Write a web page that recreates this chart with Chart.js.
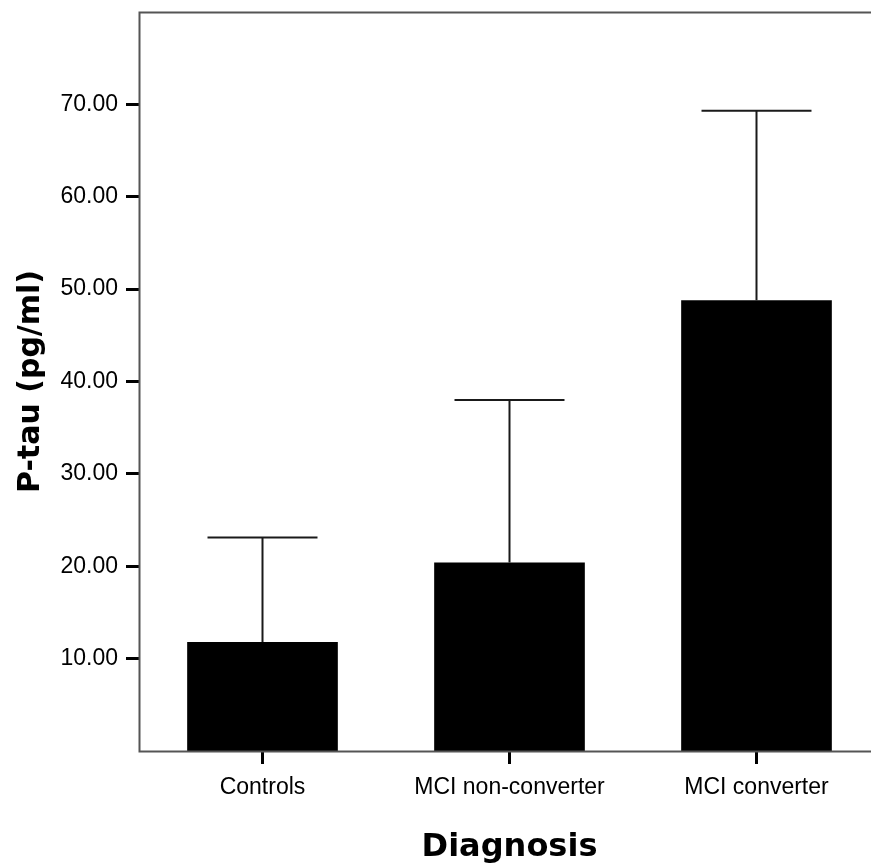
<!DOCTYPE html>
<html>
<head>
<meta charset="utf-8">
<title>P-tau by diagnosis</title>
<script src="https://cdn.jsdelivr.net/npm/chart.js@4/dist/chart.umd.min.js"></script>
<style>
  html, body { margin: 0; padding: 0; background: #fff; overflow: hidden; }
  canvas { display: block; }
</style>
</head>
<body>
<canvas id="ptauChart" width="880" height="867"></canvas>
<script>
// Categorías (eje X) y valores
const diagnoses = ['Controls', 'MCI non-converter', 'MCI converter'];
const means = [11.8, 20.4, 48.8];     // media de P-tau (pg/ml)
const stdDevs = [11.3, 17.6, 20.5];   // longitud de la barra de error (arriba)
const yTicks = [10, 20, 30, 40, 50, 60, 70];
const yMin = 0;
const yMax = 80;

// Marco del área del gráfico + barras de error (solo hacia arriba)
const errorBarPlugin = {
    id: 'errorBars',
    afterDatasetsDraw(chart) {
        const { ctx, chartArea, scales: { y } } = chart;
        const meta = chart.getDatasetMeta(0);

        ctx.save();
        // caja alrededor del área
        ctx.strokeStyle = '#555';
        ctx.lineWidth = 2;
        ctx.strokeRect(chartArea.left + 0.5, chartArea.top + 0.5,
            chartArea.right - chartArea.left + 2, chartArea.bottom - chartArea.top);

        ctx.strokeStyle = '#1a1a1a';
        ctx.lineWidth = 2;
        meta.data.forEach((bar, i) => {
            const top = y.getPixelForValue(means[i] + stdDevs[i]);
            const half = bar.width * 0.365;
            ctx.beginPath();
            ctx.moveTo(bar.x, bar.y);
            ctx.lineTo(bar.x, top);
            ctx.moveTo(bar.x - half, top);
            ctx.lineTo(bar.x + half, top);
            ctx.stroke();
        });
        ctx.restore();
    }
};

const ctx = document.getElementById('ptauChart').getContext('2d');
new Chart(ctx, {
    type: 'bar',
    data: {
        labels: diagnoses,
        datasets: [{
            label: 'P-tau (pg/ml)',
            data: means,
            backgroundColor: '#000',
            borderWidth: 0,
            barPercentage: 0.61,
            categoryPercentage: 1
        }]
    },
    options: {
        responsive: false,
        animation: false,
        devicePixelRatio: 1,
        layout: {
            padding: { top: 12, right: 0, bottom: 0, left: 0 }
        },
        plugins: {
            legend: { display: false },
            tooltip: { enabled: false }
        },
        scales: {
            x: {
                border: { display: false },
                grid: {
                    offset: false,
                    drawOnChartArea: false,
                    tickLength: 13,
                    tickWidth: 3,
                    tickColor: '#000'
                },
                ticks: {
                    color: '#000',
                    padding: 10,
                    maxRotation: 0,
                    font: { family: 'Liberation Sans', size: 23 }
                },
                title: {
                    display: true,
                    text: 'Diagnosis',
                    color: '#000',
                    padding: { top: 0, bottom: 0 },
                    font: { family: 'DejaVu Sans', size: 32, weight: 'bold' }
                },
                afterFit(scale) {
                    scale.height = 116;
                    scale.paddingLeft = 0;
                    scale.paddingRight = 0;
                }
            },
            y: {
                min: yMin,
                max: yMax,
                border: { display: false },
                grid: {
                    drawOnChartArea: false,
                    tickLength: 13,
                    tickWidth: 3,
                    tickColor: '#000'
                },
                afterBuildTicks(axis) {
                    axis.ticks = yTicks.map(v => ({ value: v }));
                },
                ticks: {
                    color: '#000',
                    padding: 8,
                    font: { family: 'Liberation Sans', size: 23 },
                    callback: value => Number(value).toFixed(2)
                },
                title: {
                    display: true,
                    text: 'P-tau (pg/ml)',
                    color: '#000',
                    padding: { top: 13, bottom: 0 },
                    font: { family: 'DejaVu Sans', size: 30, weight: 'bold' }
                },
                afterFit(scale) {
                    scale.width = 139;
                    scale.paddingTop = 0;
                    scale.paddingBottom = 0;
                }
            }
        }
    },
    plugins: [errorBarPlugin]
});
</script>
</body>
</html>
